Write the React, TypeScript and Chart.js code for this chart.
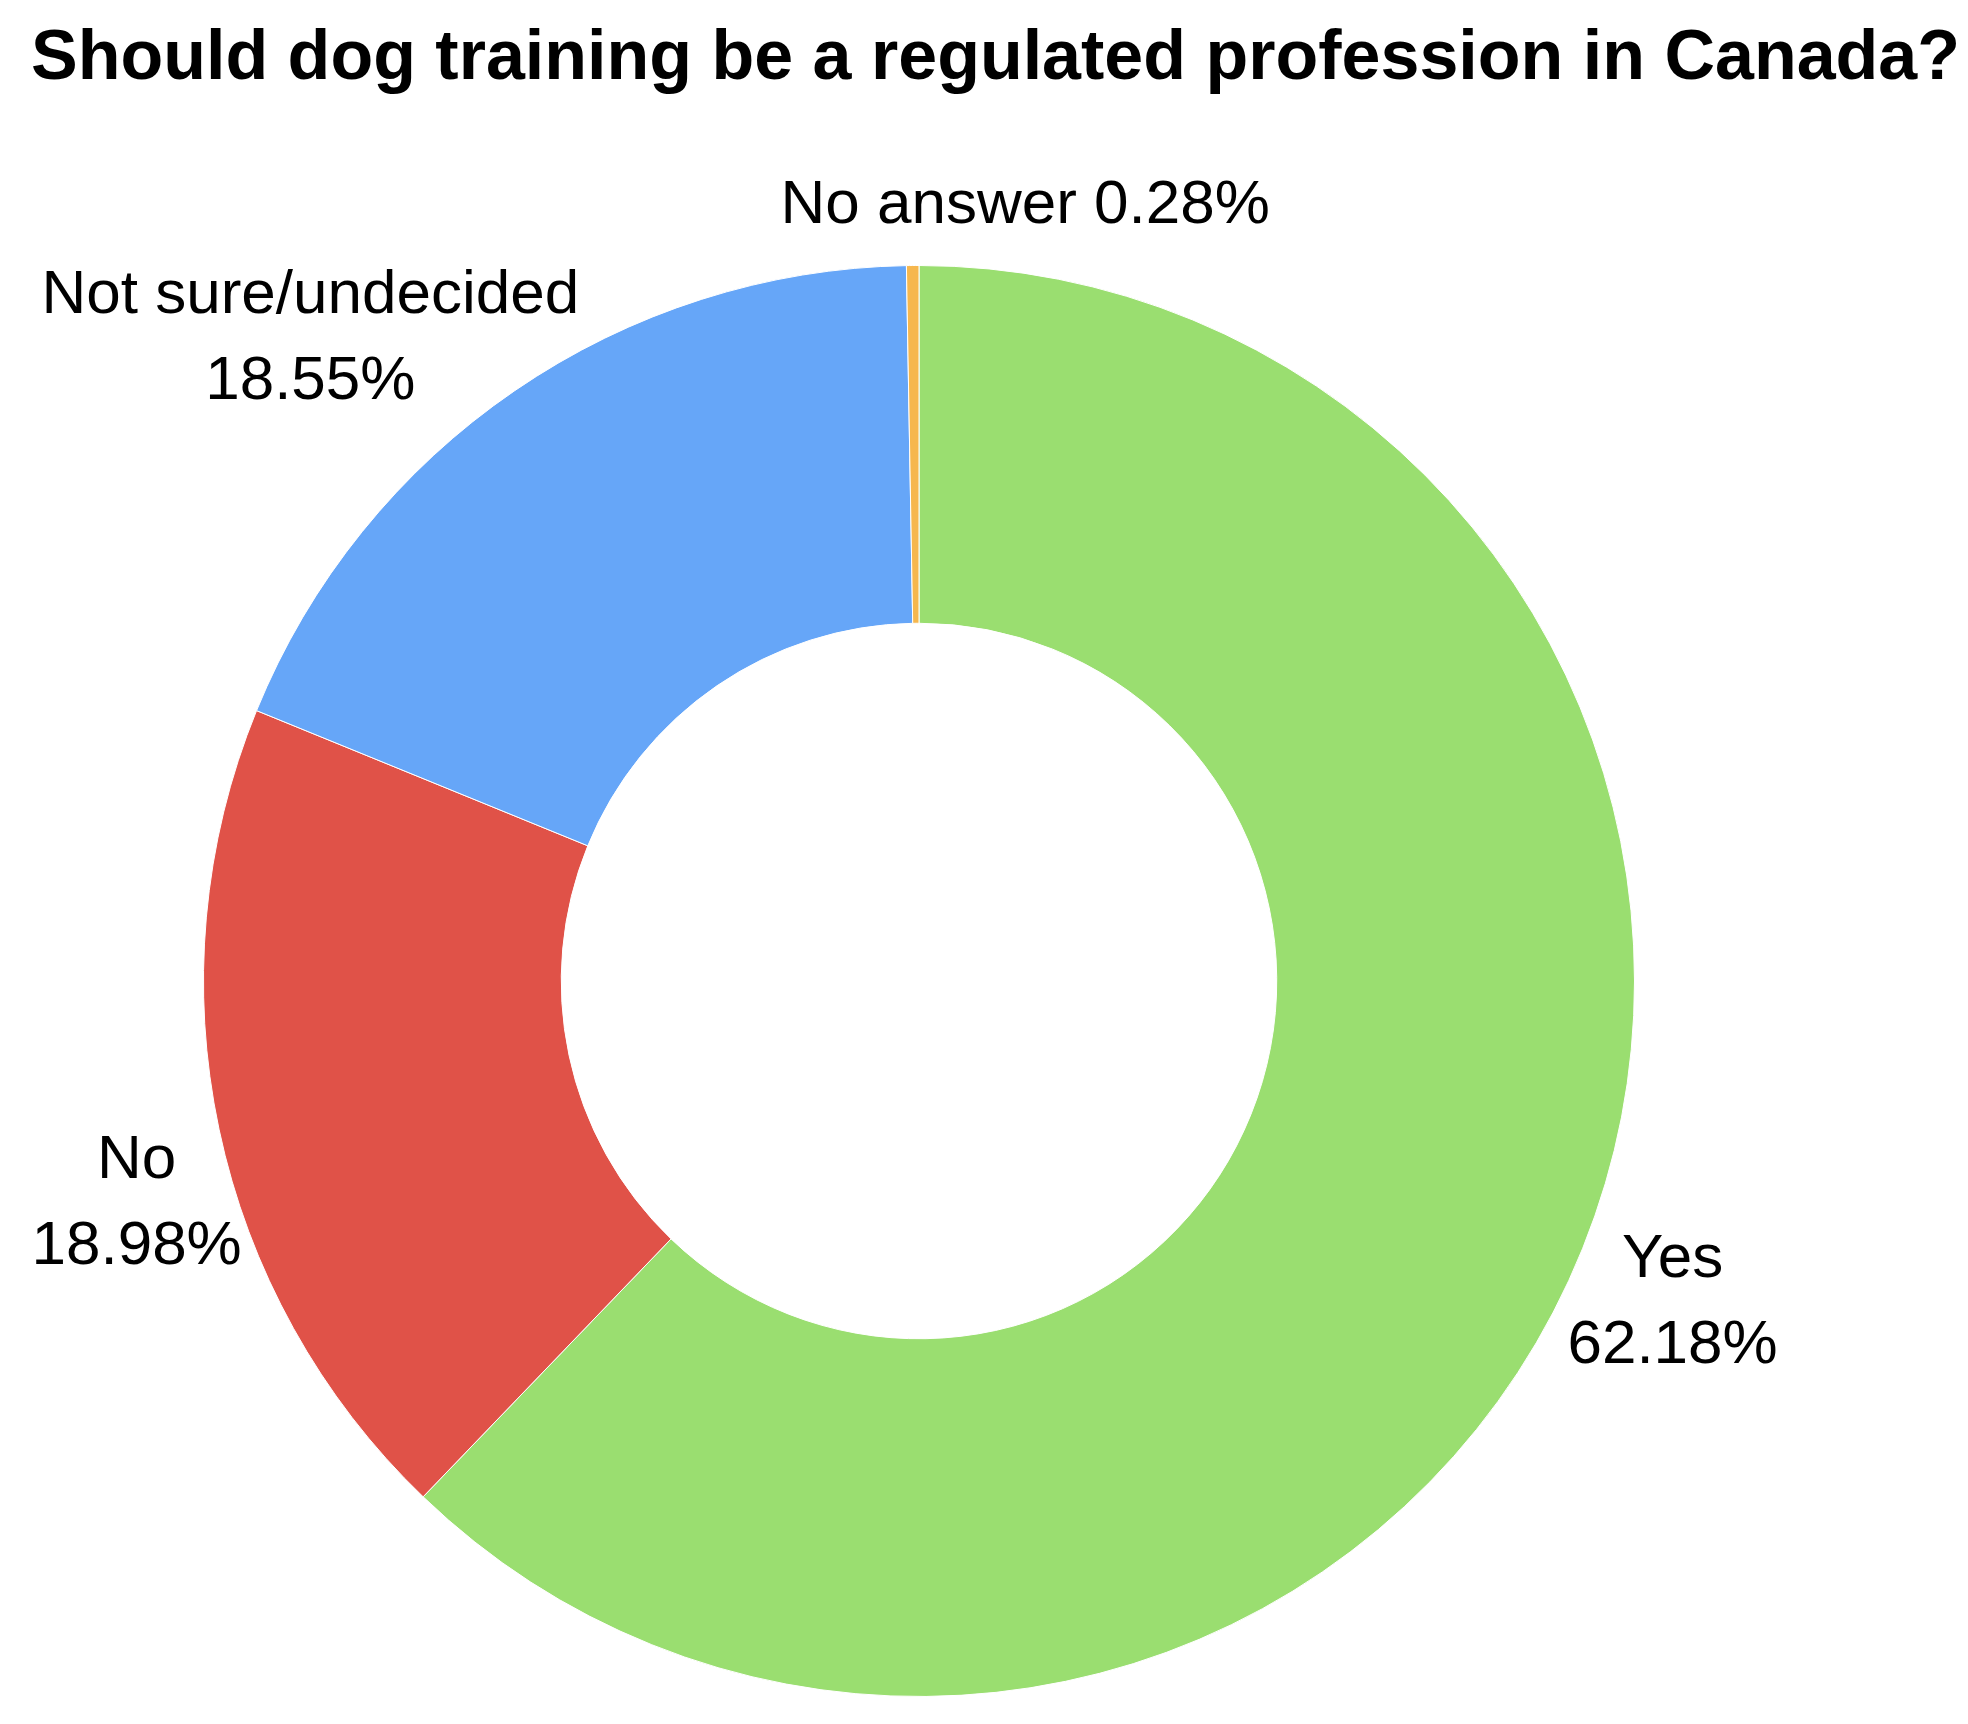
import React, { useEffect, useRef } from "react";
import { Chart, registerables } from "chart.js";

Chart.register(...registerables);

const titleText = "Should dog training be a regulated profession in Canada?";
const categories = ["Yes", "No", "Not sure/undecided", "No answer"];
const percentages = [62.18, 18.98, 18.55, 0.28];
const sliceColors = ["#9ADE70", "#E05248", "#66A6F8", "#F6B74E"];

// Label placement, relative to the donut: direction in degrees (clockwise from 3 o'clock)
// and distance as a multiple of the outer radius.
const labelAngles = [23.1, 164.1, 226.55, 277.8];
const labelRadii = [1.145, 1.137, 1.237, 1.094];
const labelOneLine = [false, false, false, true];

const FONT = "'Liberation Sans', Arial, Helvetica, sans-serif";

const outsideLabels = {
  id: "outsideLabels",
  afterDraw(chart: any) {
    const ctx = chart.ctx as CanvasRenderingContext2D;
    ctx.save();
    ctx.fillStyle = "#000000";
    ctx.font = `bold 70px ${FONT}`;
    ctx.textAlign = "left";
    ctx.textBaseline = "alphabetic";
    ctx.fillText(titleText, 31, 79);

    const meta = chart.getDatasetMeta(0);
    ctx.font = `62px ${FONT}`;
    ctx.textAlign = "center";
    ctx.textBaseline = "middle";
    const lineHeight = 86;
    meta.data.forEach((arc: any, i: number) => {
      const { x, y, outerRadius } = arc.getProps(["x", "y", "outerRadius"], true);
      const a = (labelAngles[i] * Math.PI) / 180;
      const cx = x + Math.cos(a) * outerRadius * labelRadii[i];
      const cy = y + Math.sin(a) * outerRadius * labelRadii[i];
      const pct = percentages[i].toFixed(2) + "%";
      const lines = labelOneLine[i] ? [categories[i] + " " + pct] : [categories[i], pct];
      lines.forEach((t, j) => {
        ctx.fillText(t, cx, cy + (j - (lines.length - 1) / 2) * lineHeight);
      });
    });
    ctx.restore();
  },
};

export default function App() {
  const canvasRef = useRef<HTMLCanvasElement | null>(null);

  useEffect(() => {
    if (!canvasRef.current) return;
    const chart = new Chart(canvasRef.current, {
      type: "doughnut",
      data: {
        labels: categories,
        datasets: [
          {
            data: percentages,
            backgroundColor: sliceColors,
            borderColor: "#ffffff",
            borderWidth: 1,
          },
        ],
      },
      options: {
        responsive: false,
        animation: false,
        cutout: "50%",
        rotation: 0,
        layout: { padding: { left: 203, right: 333, top: 265, bottom: 27 } },
        plugins: {
          legend: { display: false },
          title: { display: false },
          tooltip: { enabled: false },
        },
      },
      plugins: [outsideLabels],
    });
    return () => chart.destroy();
  }, []);

  return (
    <div
      style={{
        position: "fixed",
        left: 0,
        top: 0,
        width: 1968,
        height: 1724,
        background: "#ffffff",
      }}
    >
      <canvas ref={canvasRef} width={1968} height={1724} style={{ display: "block" }} />
    </div>
  );
}
